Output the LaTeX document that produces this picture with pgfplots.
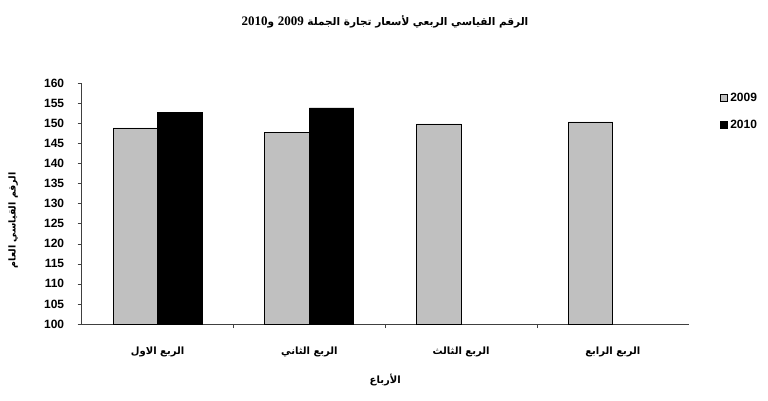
\documentclass[border=0pt]{standalone}
\usepackage{pgfplots}
\pgfplotsset{compat=1.18}
\usepackage{fontspec}
\setmainfont{Liberation Sans}
\newfontfamily\arabicfont[Script=Arabic]{DejaVu Sans}
\newfontfamily\serifdig{Liberation Serif}
\TeXXeTstate=1
\definecolor{bargray}{HTML}{C0C0C0}
\begin{document}
\begin{tikzpicture}
\path[use as bounding box, fill=white] (0,0) rectangle (768pt,400pt);
\node[font=\arabicfont\bfseries\fontsize{10.5}{12}\selectfont] at (385pt,378pt)
  {\beginR الرقم القياسي الربعي لأسعار تجارة الجملة {\serifdig\bfseries\fontsize{13}{14}\selectfont\beginL2009\endL} و{\serifdig\bfseries\fontsize{13}{14}\selectfont\beginL2010\endL}\endR};
\begin{axis}[
  at={(81.7pt,76pt)}, anchor=south west,
  width=607pt, height=241pt, scale only axis,
  ybar=0pt, bar width=44.5pt,
  xmin=-0.5, xmax=3.5, ymin=100, ymax=160,
  ytick distance=5,
  xtick={0,1,2,3},
  xticklabels={{\beginR الربع الاول\endR},{\beginR الربع الثاني\endR},{\beginR الربع الثالث\endR},{\beginR الربع الرابع\endR}},
  minor xtick={0.5,1.5,2.5},
  major x tick style={draw=none},
  minor tick length=4pt, major tick length=4pt,
  tick align=outside,
  axis lines*=left,
  axis line style={black!75, line width=0.8pt},
  tick style={black!75},
  /pgf/number format/assume math mode=true,
  yticklabel style={font=\bfseries\fontsize{12}{13}\selectfont, xshift=-10pt},
  xticklabel style={font=\arabicfont\bfseries\fontsize{10}{11}\selectfont, yshift=-15pt},
  xlabel={\beginR الأرباع\endR},
  xlabel style={font=\arabicfont\bfseries\fontsize{10}{11}\selectfont, at={(axis description cs:0.5,0)}, anchor=center, yshift=-56pt},
  ylabel={\beginR الرقم القياسي العام\endR},
  ylabel style={font=\arabicfont\bfseries\fontsize{9.5}{11}\selectfont, at={(axis description cs:-0.113,0.43)}, anchor=center},
  legend style={at={(axis description cs:1.052,0.968)}, anchor=north west, draw=none, fill=none,
    font=\bfseries\fontsize{12}{13}\selectfont, row sep=13pt, inner sep=0pt},
  legend image code/.code={\draw[#1] (0pt,-3.5pt) rectangle (7pt,3.5pt);},
  enlarge x limits=false,
]
\addplot[fill=bargray, draw=black, line width=0.8pt] coordinates {(0,148.8) (1,147.6) (2,149.8) (3,150.3)};
\addplot[fill=black, draw=black, line width=0.8pt] coordinates {(0,152.6) (1,153.8)};
\legend{2009,2010}
\end{axis}
\end{tikzpicture}
\end{document}
